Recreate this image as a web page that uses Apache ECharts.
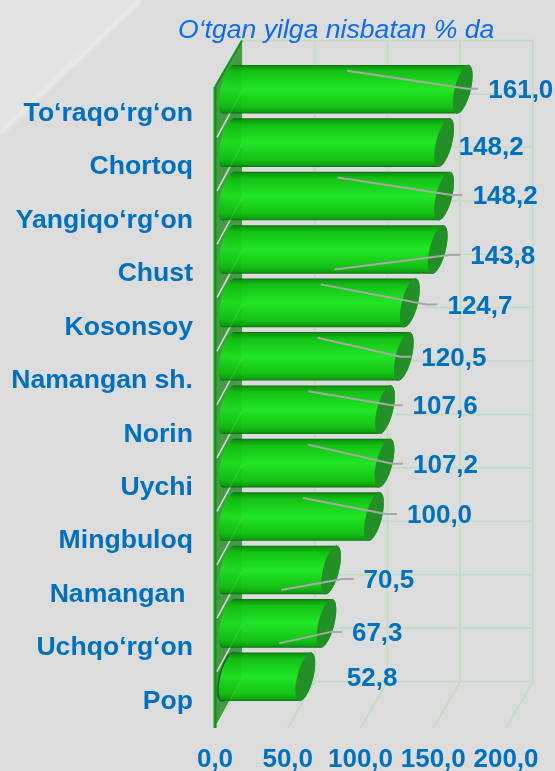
<!DOCTYPE html>
<html>
<head>
<meta charset="utf-8">
<style>html,body{margin:0;padding:0;background:#dcdcdc}#c{width:555px;height:771px}</style>
<script src="https://cdn.jsdelivr.net/npm/echarts@6/dist/echarts.min.js"></script>
</head>
<body>
<div id="c"></div>
<script>
const categories = ['To‘raqo‘rg‘on','Chortoq','Yangiqo‘rg‘on','Chust','Kosonsoy','Namangan sh.','Norin','Uychi','Mingbuloq','Namangan ','Uchqo‘rg‘on','Pop'];
const values = [161.0,148.2,148.2,143.8,124.7,120.5,107.6,107.2,100.0,70.5,67.3,52.8];
const valueTicks = [0,50,100,150,200];
const titleText = 'O‘tgan yilga nisbatan % da';
// label placement relative to each bar's value point
const labelDx = [39,28,42,46,51,31,41,42,46.5,46,39,55];
const labelDy = [-25,-21,-25.5,-19,-23,-24,-29,-24,-27,-15.5,-16,-24];
const hasLeader = [1,0,1,1,1,1,1,1,1,1,1,0];

const DX = 27, DY = -46.5;           // depth of the 3-D box
const MX = 13.5, MY = -24.5;         // bars stand at mid depth
const BLUE = '#0070c0', GRID = '#c5dbc7', FONT = '"Liberation Sans",Arial,sans-serif';
const bodyFill = {type:'linear',x:0,y:0,x2:0,y2:1,colorStops:[
  {offset:0,color:'#0f7012'},{offset:.04,color:'#0f9a12'},{offset:.14,color:'#14c214'},
  {offset:.5,color:'#22e626'},{offset:.86,color:'#14c214'},{offset:.96,color:'#0fa012'},{offset:1,color:'#0e7010'}]};

function renderTick(p, api){
  const cs = p.coordSys, x = api.coord([api.value(0),0])[0];
  const top = cs.y, bot = cs.y + cs.height, st = {stroke:GRID,lineWidth:2,fill:null};
  return {type:'group',children:[
    {type:'line',shape:{x1:x,y1:bot,x2:x+DX,y2:bot+DY},style:st},
    {type:'line',shape:{x1:x+DX,y1:top+DY,x2:x+DX,y2:bot+DY},style:st}
  ]};
}
function renderRow(p, api){
  const cs = p.coordSys, i = api.value(1), c = api.coord([0,i]), h = api.size([0,1])[1];
  const y = c[1] - h/2 + DY;
  const kids = [{type:'line',shape:{x1:cs.x+DX,y1:y+h,x2:cs.x+cs.width+DX,y2:y+h},style:{stroke:GRID,lineWidth:2}}];
  if (i === 0) kids.push({type:'line',shape:{x1:cs.x+DX,y1:y,x2:cs.x+cs.width+DX,y2:y},style:{stroke:GRID,lineWidth:2}});
  return {type:'group',children:kids};
}
function renderWall(p, api){
  const cs = p.coordSys, top = cs.y, bot = cs.y + cs.height, x = cs.x;
  return {type:'group',children:[
    {type:'polygon',shape:{points:[[x,top],[x+DX,top+DY],[x+DX,bot+DY],[x,bot]]},style:{fill:'#4ba04e'}},
    {type:'line',shape:{x1:x,y1:top,x2:x+DX,y2:top+DY},style:{stroke:'#15961a',lineWidth:2}},
    {type:'line',shape:{x1:x,y1:top,x2:x,y2:bot},style:{stroke:'#109a14',lineWidth:3}}
  ]};
}
function renderTicksOnWall(p, api){
  const cs = p.coordSys, i = api.value(1), c = api.coord([0,i]), h = api.size([0,1])[1];
  const y = c[1] + h/2;
  return {type:'line',shape:{x1:cs.x+2,y1:y-3,x2:cs.x+DX,y2:y-3+DY},style:{stroke:'rgba(240,245,240,.85)',lineWidth:1.5}};
}
function renderBar(p, api){
  const v = api.value(0), i = api.value(1), c0 = api.coord([0,i]), c1 = api.coord([v,i]), h = api.size([0,1])[1];
  const cy = c0[1] + MY, hh = h*0.455, lean = 6;
  const x0 = c0[0] + MX, x1 = c1[0] + MX, top = cy - hh, bot = cy + hh;
  const ell = (cx, fill, extra) => ({type:'ellipse',originX:cx,originY:cy,rotation:-0.25,
    shape:{cx:cx,cy:cy,rx:8,ry:hh+0.8},style:Object.assign({fill:fill},extra||{})});
  const kids = [
    ell(x0, bodyFill),
    {type:'polygon',shape:{points:[[x0+lean,top],[x1+lean,top],[x1-lean,bot],[x0-lean,bot]]},style:{fill:bodyFill}},
    ell(x1, bodyFill),
    ell(x1, '#238f27')
  ];
  if (i === categories.length-1) kids.unshift(ell(x0-1, 'rgba(40,55,40,.7)', {stroke:'rgba(40,55,40,.4)',lineWidth:2}));
  return {type:'group',children:kids};
}
function renderOverlay(p, api){
  const cs = p.coordSys, i = api.value(1), c = api.coord([0,i]), h = api.size([0,1])[1];
  const y = c[1] + h/2;
  const kids = [{type:'line',shape:{x1:cs.x+2,y1:y-3,x2:cs.x+DX,y2:y-3+DY},style:{stroke:'rgba(240,245,240,.12)',lineWidth:1.5}}];
  if (i === 0) kids.push({type:'polygon',shape:{points:[[cs.x,cs.y],[cs.x+DX,cs.y+DY],[cs.x+DX,cs.y+cs.height+DY],[cs.x,cs.y+cs.height]]},style:{fill:'rgba(0,90,0,.07)'}});
  return {type:'group',children:kids};
}
function renderLabel(p, api){
  const v = api.value(0), i = api.value(1), c = api.coord([v,i]), s = api.coord([v/2,i]);
  const lx = c[0] + labelDx[i], ly = c[1] + labelDy[i];
  const kids = [];
  if (hasLeader[i]) {
    const sy = s[1] + (labelDy[i] > -20 ? -4.5 : -43);
    kids.push({type:'polyline',shape:{points:[[s[0]+15,sy],[lx-21,ly],[lx-10,ly]]},style:{stroke:'#a8a8a8',lineWidth:2,fill:null}});
  }
  kids.push({type:'text',style:{x:lx,y:ly+2,text:v.toFixed(1).replace('.',','),fill:BLUE,
    font:'bold 26px '+FONT,textAlign:'left',textVerticalAlign:'middle'}});
  return {type:'group',children:kids};
}
const rows = values.map((v,i)=>[v,i]);
const custom = (name, fn, data, z) => ({type:'custom',name:name,renderItem:fn,data:data,z:z,silent:true,
  encode:{x:0,y:1},clip:false,animation:false});

echarts.init(document.getElementById('c'),null,{renderer:'canvas'}).setOption({
  animation:false,
  backgroundColor:'#dcdcdc',
  textStyle:{fontFamily:FONT},
  title:{text:titleText,left:173,top:12,textStyle:{color:'#0a6cf5',fontSize:26.6,fontStyle:'italic',fontWeight:'normal',fontFamily:FONT}},
  graphic:[
    {type:'polygon',z:-10,silent:true,shape:{points:[[0,0],[140,0],[0,133]]},style:{fill:'#e3e3e5',shadowBlur:6,shadowColor:'#e4e4e6'}},
    {type:'line',z:-9,silent:true,shape:{x1:0,y1:133,x2:140,y2:0},style:{stroke:'#e8e8e9',lineWidth:4,shadowBlur:5,shadowColor:'#e8e8e9'}}
  ],
  grid:{left:215,right:49,top:87,bottom:43,containLabel:false,outerBoundsMode:'none'},
  xAxis:{type:'value',min:0,max:200,interval:50,splitLine:{show:false},axisLine:{show:false},axisTick:{show:false},
    axisLabel:{color:BLUE,fontSize:26,fontWeight:'bold',fontFamily:FONT,margin:19,hideOverlap:false,showMinLabel:true,showMaxLabel:true,
      formatter:v=>v.toFixed(1).replace('.',',')}},
  yAxis:{type:'category',inverse:true,data:categories,axisLine:{show:false},axisTick:{show:false},splitLine:{show:false},
    axisLabel:{color:BLUE,fontSize:26.6,fontWeight:'bold',fontFamily:FONT,margin:22,interval:0,padding:[3,0,0,0]}},
  series:[
    custom('ticks',renderTick,valueTicks.map(v=>[v,0]),1),
    custom('rows',renderRow,rows,1),
    custom('wall',renderWall,[[0,0]],2),
    custom('wallticks',renderTicksOnWall,rows,2),
    custom('bars',renderBar,rows,3),
    custom('overlay',renderOverlay,rows,4),
    custom('labels',renderLabel,rows,5)
  ]
});
</script>
</body>
</html>
